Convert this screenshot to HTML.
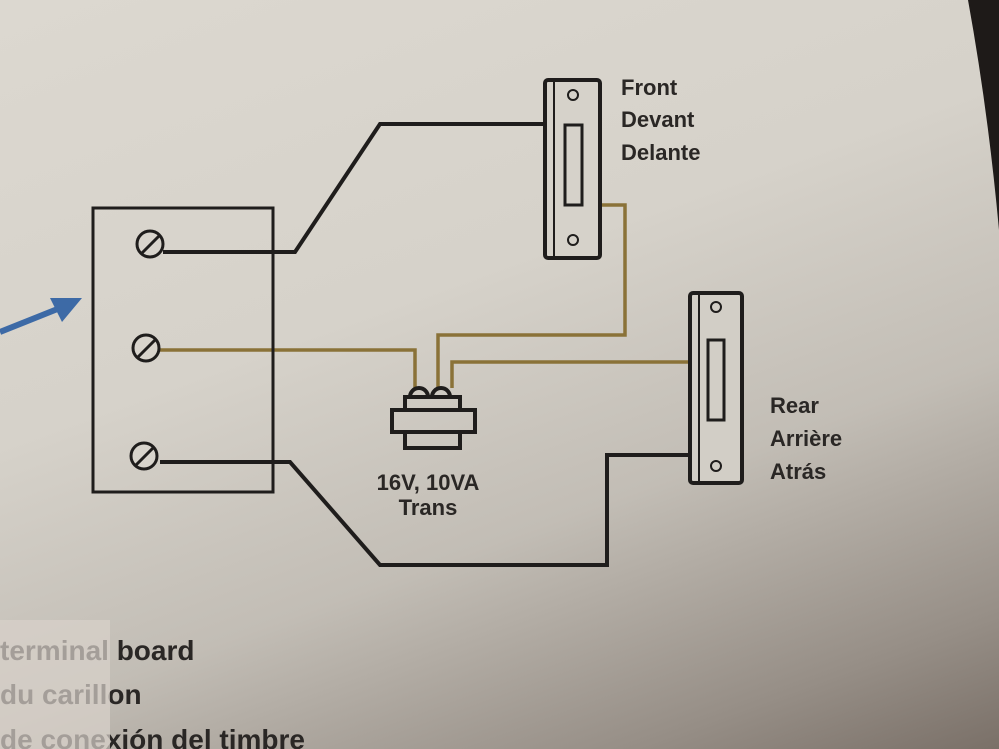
<!DOCTYPE html>
<html><head><style>
html,body{margin:0;padding:0;width:999px;height:749px;overflow:hidden;}
body{background:linear-gradient(160deg,#dcd8d0 0%,#d6d2ca 40%,#c2bdb5 65%,#968e86 88%,#7a7068 100%);}
svg{position:absolute;left:0;top:0;}
text{font-family:"Liberation Sans",sans-serif;font-weight:bold;fill:#2a2725;}
</style></head><body>
<svg width="999" height="749" viewBox="0 0 999 749">
<path d="M968,0 L999,0 L999,230 Q988,110 968,0Z" fill="#1e1a18"/>
<g fill="none" stroke-linejoin="miter">
<g stroke="#8a7238" stroke-width="3.5">
<polyline points="160,350 415,350 415,388"/>
<polyline points="600,205 625,205 625,335 438,335 438,388"/>
<polyline points="690,362 452,362 452,388"/>
</g>
<g stroke="#1f1d1c" stroke-width="4">
<polyline points="163,252 295,252 380,124 545,124"/>
<polyline points="160,462 290,462 380,565 607,565 607,455 690,455"/>
</g>
<rect x="93" y="208" width="180" height="284" stroke="#1f1d1c" stroke-width="3"/>
<g stroke="#1f1d1c" stroke-width="3">
<circle cx="150" cy="244" r="13" fill="#d8d4cc"/><line x1="142" y1="253" x2="159" y2="236"/>
<circle cx="146" cy="348" r="13" fill="#d8d4cc"/><line x1="138" y1="357" x2="155" y2="340"/>
<circle cx="144" cy="456" r="13" fill="#d8d4cc"/><line x1="136" y1="465" x2="153" y2="448"/>
</g>
<g stroke="#1f1d1c">
<rect x="545" y="80" width="55" height="178" rx="3" stroke-width="4" fill="#d6d2ca"/>
<line x1="554" y1="82" x2="554" y2="256" stroke-width="2"/>
<rect x="565" y="125" width="17" height="80" stroke-width="3"/>
<circle cx="573" cy="95" r="5" stroke-width="2"/>
<circle cx="573" cy="240" r="5" stroke-width="2"/>
</g>
<g stroke="#1f1d1c">
<rect x="690" y="293" width="52" height="190" rx="3" stroke-width="4" fill="#d2cec6"/>
<line x1="699" y1="295" x2="699" y2="481" stroke-width="2"/>
<rect x="708" y="340" width="16" height="80" stroke-width="3"/>
<circle cx="716" cy="307" r="5" stroke-width="2"/>
<circle cx="716" cy="466" r="5" stroke-width="2"/>
</g>
<g stroke="#1f1d1c" stroke-width="4">
<path d="M410,397 a9,9 0 0 1 18,0 M432,397 a9,9 0 0 1 18,0"/>
<rect x="405" y="397" width="55" height="13"/>
<rect x="392" y="410" width="83" height="22"/>
<rect x="405" y="432" width="55" height="16"/>
</g>
<line x1="0" y1="332" x2="60" y2="308" stroke="#3d6aa6" stroke-width="6"/>
</g>
<polygon points="82,298 50,298 62,322" fill="#3d6aa6"/>
<g font-size="22">
<text x="621" y="95">Front</text>
<text x="621" y="127">Devant</text>
<text x="621" y="160">Delante</text>
<text x="770" y="413">Rear</text>
<text x="770" y="446">Arrière</text>
<text x="770" y="479">Atrás</text>
<text x="428" y="490" text-anchor="middle">16V, 10VA</text>
<text x="428" y="515" text-anchor="middle">Trans</text>
</g>
<g font-size="28" style="fill:#3a3532">
<text x="0" y="660">terminal board</text>
<text x="0" y="704">du carillon</text>
<text x="0" y="749">de conexión del timbre</text>
</g>
<rect x="0" y="620" width="110" height="129" fill="#d8d2ca" opacity="0.7"/>
</svg>
</body></html>
